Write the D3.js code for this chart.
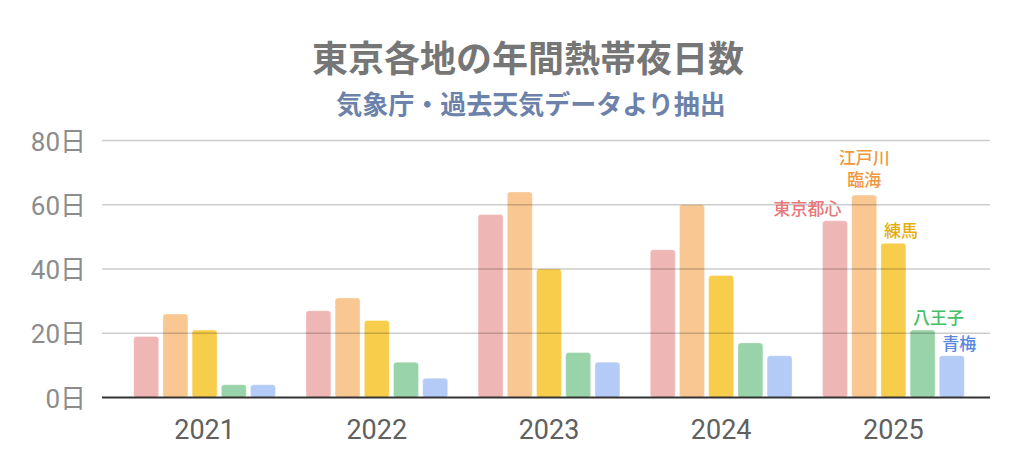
<!DOCTYPE html>
<html>
<head>
<meta charset="utf-8">
<script src="https://cdn.jsdelivr.net/npm/d3@7"></script>
<style>
  body { margin: 0; background: #fff; }
  svg { display: block; }
</style>
</head>
<body>
<div id="container"></div>
<script>
// data
var years = ["2021", "2022", "2023", "2024", "2025"];
var series = ["東京都心", "江戸川臨海", "練馬", "八王子", "青梅"];
var tokyo    = [19, 27, 57, 46, 55];
var edogawa  = [26, 31, 64, 60, 63];
var nerima   = [21, 24, 40, 38, 48];
var hachioji = [4, 11, 14, 17, 21];
var ome      = [4, 6, 11, 13, 13];
var yTicks = [0, 20, 40, 60, 80];
var labelLines = [["東京都心"], ["江戸川", "臨海"], ["練馬"], ["八王子"], ["青梅"]];

var values = [tokyo, edogawa, nerima, hachioji, ome];
var barColors = ["#efb6b6", "#f8c792", "#f9cd4c", "#99d3a9", "#b3cbf6"];
var textColors = ["#e8777a", "#f0973a", "#e6ad0c", "#45bf66", "#5a88e0"];

var width = 1024, height = 470;
var plotLeft = 118.5, plotRight = 979.5, plotTop = 140.5, plotBottom = 397.5;

var svg = d3.select("#container")
  .append("svg")
    .attr("width", width)
    .attr("height", height);

var x0 = d3.scaleBand()
  .domain(years)
  .range([plotLeft, plotRight])
  .padding(0);

var x1 = d3.scaleBand()
  .domain(series)
  .range([15.2, x0.bandwidth() - 15.2])
  .paddingInner(0.144)
  .paddingOuter(0);

var y = d3.scaleLinear()
  .domain([0, 80])
  .range([plotBottom, plotTop]);

// title
svg.append("text")
  .attr("x", 528).attr("y", 72)
  .attr("text-anchor", "middle")
  .style("font-family", "'Noto Sans CJK JP', sans-serif")
  .style("font-weight", "bold")
  .style("font-size", "36px")
  .style("fill", "#767676")
  .text("東京各地の年間熱帯夜日数");

svg.append("text")
  .attr("x", 531).attr("y", 114)
  .attr("text-anchor", "middle")
  .style("font-family", "'Noto Sans CJK JP', sans-serif")
  .style("font-weight", "bold")
  .style("font-size", "26px")
  .style("fill", "#6c82aa")
  .text("気象庁・過去天気データより抽出");

// bars
var groups = svg.selectAll(".year")
  .data(years)
  .enter()
  .append("g")
    .attr("transform", function (d) { return "translate(" + x0(d) + ",0)"; });

groups.selectAll("rect")
  .data(function (d, i) {
    return series.map(function (s, j) { return {s: s, j: j, v: values[j][i]}; });
  })
  .enter()
  .append("rect")
    .attr("x", function (d) { return x1(d.s); })
    .attr("y", function (d) { return y(d.v); })
    .attr("width", x1.bandwidth())
    .attr("height", function (d) { return y(0) - y(d.v); })
    .attr("rx", 3)
    .attr("fill", function (d) { return barColors[d.j]; })
    .attr("stroke", "rgba(255,255,255,0.35)")
    .attr("stroke-width", 1);

// gridlines on top of the bars
svg.append("g")
  .selectAll("line")
  .data(yTicks.filter(function (d) { return d > 0; }))
  .enter()
  .append("line")
    .attr("x1", 102).attr("x2", 990)
    .attr("y1", function (d) { return y(d); })
    .attr("y2", function (d) { return y(d); })
    .attr("stroke", "rgba(0,0,0,0.2)")
    .attr("stroke-width", 1.5);

svg.append("line")
  .attr("x1", 102).attr("x2", 990)
  .attr("y1", y(0)).attr("y2", y(0))
  .attr("stroke", "#333")
  .attr("stroke-width", 2);

// y labels
svg.append("g")
  .selectAll("text")
  .data(yTicks)
  .enter()
  .append("text")
    .attr("x", 86)
    .attr("y", function (d) { return y(d) + 10; })
    .attr("text-anchor", "end")
    .style("font-family", "Roboto, 'Noto Sans CJK JP', sans-serif")
    .style("font-size", "26px")
    .style("fill", "#8c8c8c")
    .text(function (d) { return d + "日"; });

// x labels
svg.append("g")
  .selectAll("text")
  .data(years)
  .enter()
  .append("text")
    .attr("x", function (d) { return x0(d) + x0.bandwidth() / 2; })
    .attr("y", 439)
    .attr("text-anchor", "middle")
    .style("font-family", "Roboto, 'Noto Sans CJK JP', sans-serif")
    .style("font-size", "27px")
    .style("fill", "#606060")
    .text(function (d) { return d; });

// series labels above the last year
var last = years.length - 1;
series.forEach(function (s, j) {
  var bx = x0(years[last]) + x1(s);
  var bw = x1.bandwidth();
  var barTop = y(values[j][last]);
  var anchor = j === 0 ? "end" : (j === 1 ? "middle" : "start");
  var tx = j === 0 ? bx + bw - 6 : (j === 1 ? bx + bw / 2 : bx + 3);
  var lines = labelLines[j];
  var t = svg.append("text")
    .attr("text-anchor", anchor)
    .style("font-family", "'Noto Sans CJK JP', sans-serif")
    .style("font-size", "17px")
    .style("font-weight", "500")
    .style("fill", textColors[j]);
  lines.forEach(function (line, k) {
    t.append("tspan")
      .attr("x", tx)
      .attr("y", barTop - 6 - (lines.length - 1 - k) * 22.6 - (j === 1 ? 3 : 0))
      .text(line);
  });
});
</script>
</body>
</html>
